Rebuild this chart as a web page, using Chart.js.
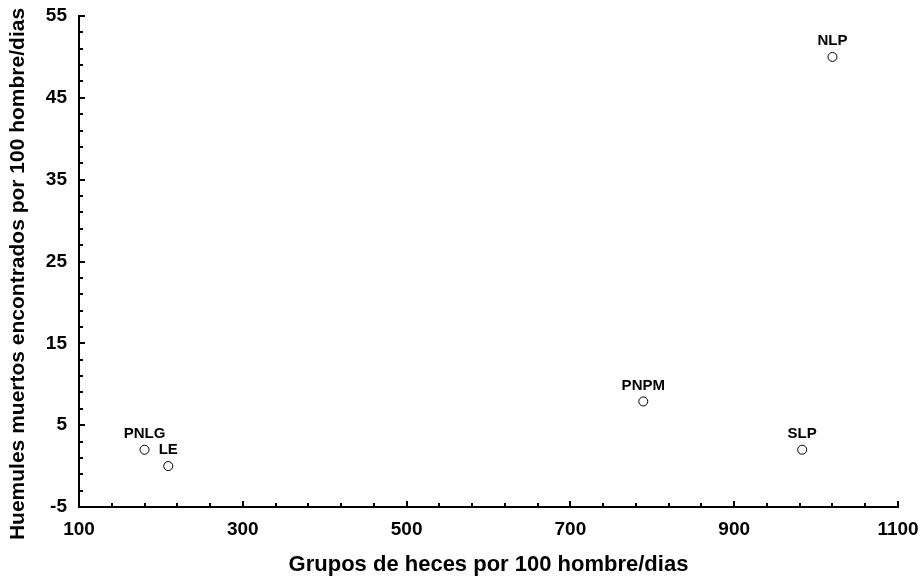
<!DOCTYPE html>
<html lang="es">
<head>
    <meta charset="UTF-8">
    <title>Huemules muertos vs grupos de heces</title>
    <style>
        * {
            margin: 0;
            padding: 0;
            box-sizing: border-box;
        }

        body {
            background: #fff;
            width: 923px;
            height: 576px;
            overflow: hidden;
        }
    </style>
</head>
<body>

    <canvas id="scatterChart" width="923" height="576"></canvas>

    <script src="https://cdn.jsdelivr.net/npm/chart.js"></script>
    <script>
        // datos
        const sitios = ['PNLG', 'LE', 'PNPM', 'SLP', 'NLP'];
        const heces = [180, 209, 789, 983, 1020];
        const muertos = [2, 0, 7.9, 2, 50];

        const xMin = 100, xMax = 1100, xPaso = 40, xEtiqueta = 200;
        const yMin = -5, yMax = 55, yPaso = 2, yEtiqueta = 10;

        const tituloX = 'Grupos de heces por 100 hombre/dias';
        const tituloY = 'Huemules muertos encontrados por 100 hombre/dias';

        const fuente = "'Liberation Sans', Arial, sans-serif";

        // etiquetas de cada punto (PNLG, LE...)
        const etiquetasPuntos = {
            id: 'etiquetasPuntos',
            afterDatasetsDraw(chart) {
                const ctx = chart.ctx;
                const meta = chart.getDatasetMeta(0);
                ctx.save();
                ctx.font = 'bold 15px ' + fuente;
                ctx.fillStyle = '#000';
                ctx.textAlign = 'center';
                ctx.textBaseline = 'middle';
                meta.data.forEach(function (p, i) {
                    ctx.fillText(sitios[i], p.x, p.y - 16);
                });
                ctx.restore();
            }
        };

        // marcas de los ejes hacia adentro + titulo vertical
        const marcasEjes = {
            id: 'marcasEjes',
            afterDraw(chart) {
                const ctx = chart.ctx;
                const area = chart.chartArea;
                const x = chart.scales.x;
                const y = chart.scales.y;
                ctx.save();
                ctx.strokeStyle = '#000';
                ctx.lineWidth = 2;
                x.ticks.forEach(function (t) {
                    const px = Math.round(x.getPixelForValue(t.value));
                    const largo = (t.value - xMin) % xEtiqueta === 0 ? 6 : 4;
                    ctx.beginPath();
                    ctx.moveTo(px, area.bottom);
                    ctx.lineTo(px, area.bottom - largo);
                    ctx.stroke();
                });
                y.ticks.forEach(function (t) {
                    const py = Math.round(y.getPixelForValue(t.value));
                    const largo = (t.value - yMin) % yEtiqueta === 0 ? 6 : 4;
                    ctx.beginPath();
                    ctx.moveTo(area.left, py);
                    ctx.lineTo(area.left + largo, py);
                    ctx.stroke();
                });

                ctx.translate(18, 274);
                ctx.rotate(-Math.PI / 2);
                ctx.font = 'bold 21px ' + fuente;
                ctx.fillStyle = '#000';
                ctx.textAlign = 'center';
                ctx.textBaseline = 'middle';
                ctx.fillText(tituloY, 0, 0);
                ctx.restore();
            }
        };

        const ctx = document.getElementById('scatterChart').getContext('2d');
        new Chart(ctx, {
            type: 'scatter',
            data: {
                datasets: [{
                    data: heces.map(function (v, i) { return { x: v, y: muertos[i] }; }),
                    pointRadius: 4.5,
                    pointHoverRadius: 4.5,
                    pointBackgroundColor: '#fff',
                    pointBorderColor: '#000',
                    pointBorderWidth: 1
                }]
            },
            options: {
                responsive: false,
                animation: false,
                layout: {
                    padding: { left: 0, top: 16, right: 25, bottom: 0 }
                },
                plugins: {
                    legend: { display: false },
                    tooltip: { enabled: false }
                },
                scales: {
                    x: {
                        type: 'linear',
                        min: xMin,
                        max: xMax,
                        grid: { display: false, drawTicks: false },
                        border: { display: true, color: '#000', width: 2 },
                        ticks: {
                            stepSize: xPaso,
                            autoSkip: false,
                            maxRotation: 0,
                            padding: 11,
                            color: '#000',
                            font: { family: fuente, size: 19, weight: 'bold' },
                            callback: function (v) {
                                return (v - xMin) % xEtiqueta === 0 ? v : '';
                            }
                        },
                        title: {
                            display: true,
                            text: tituloX,
                            color: '#000',
                            font: { family: fuente, size: 22, weight: 'bold' },
                            padding: { top: 0, bottom: -2 }
                        },
                        afterFit: function (s) {
                            s.height = 69;
                            s.paddingLeft = 0;
                            s.paddingRight = 0;
                        }
                    },
                    y: {
                        min: yMin,
                        max: yMax,
                        grid: { display: false, drawTicks: false },
                        border: { display: true, color: '#000', width: 2 },
                        ticks: {
                            stepSize: yPaso,
                            autoSkip: false,
                            padding: 12,
                            color: '#000',
                            font: { family: fuente, size: 19, weight: 'bold' },
                            callback: function (v) {
                                return (v - yMin) % yEtiqueta === 0 ? v : '';
                            }
                        },
                        afterFit: function (s) {
                            s.width = 79;
                            s.paddingTop = 0;
                            s.paddingBottom = 0;
                        }
                    }
                }
            },
            plugins: [etiquetasPuntos, marcasEjes]
        });
    </script>

</body>
</html>
